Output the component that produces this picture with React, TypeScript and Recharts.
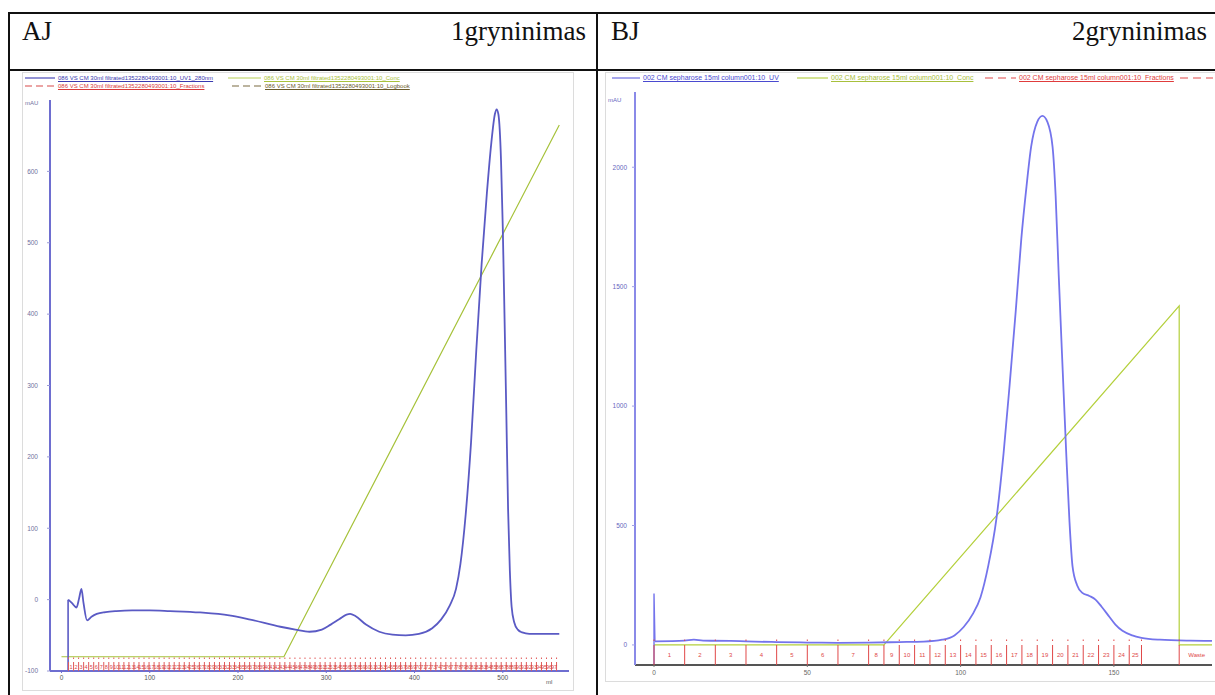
import React from 'react';
import { ComposedChart, Line, Scatter, XAxis, YAxis } from 'recharts';

// ---- panel A (left) ----
const leftXTicks = [0, 100, 200, 300, 400, 500];
const leftYTicks = [-100, 0, 100, 200, 300, 400, 500, 600];

const leftUvStart = [
    { x: 7.5, y: -100 }, { x: 7.5, y: 0 },
];
const leftUv = [
    { x: 7.6, y: 0 }, { x: 12, y: -5 }, { x: 17, y: -11 }, { x: 20, y: 2 }, { x: 22.6, y: 15 },
    { x: 25, y: -5 }, { x: 29, y: -29 }, { x: 34, y: -24 }, { x: 40, y: -20 }, { x: 50, y: -17.5 },
    { x: 62, y: -16 }, { x: 80, y: -15 }, { x: 100, y: -15 }, { x: 123, y: -16 }, { x: 157, y: -18 },
    { x: 190, y: -22 }, { x: 214, y: -28 }, { x: 248, y: -38 }, { x: 265, y: -42 }, { x: 281, y: -45 },
    { x: 295, y: -42 }, { x: 305, y: -35 }, { x: 315, y: -27 }, { x: 323, y: -21 }, { x: 327, y: -20 },
    { x: 333, y: -23 }, { x: 345, y: -35 }, { x: 360, y: -45 }, { x: 375, y: -49 }, { x: 390, y: -50 },
    { x: 405, y: -48 }, { x: 420, y: -40 }, { x: 430, y: -28 }, { x: 440, y: -8 }, { x: 447, y: 15 },
    { x: 452, y: 50 }, { x: 458, y: 120 }, { x: 464, y: 220 }, { x: 470, y: 350 }, { x: 476, y: 470 },
    { x: 482, y: 570 }, { x: 487, y: 640 }, { x: 491, y: 680 }, { x: 493, y: 687 }, { x: 495, y: 680 },
    { x: 498, y: 615 }, { x: 500, y: 520 }, { x: 502, y: 393 }, { x: 504, y: 260 }, { x: 506, y: 126 },
    { x: 508, y: 40 }, { x: 510, y: -10 }, { x: 513, y: -32 }, { x: 517, y: -42 }, { x: 522, y: -46 },
    { x: 530, y: -48 }, { x: 545, y: -48 }, { x: 564, y: -48 },
];
const leftConc = [
    { x: 0, y: -80 }, { x: 252, y: -80 }, { x: 564, y: 665 },
];
const leftFractionEdges = [
    8, 13.7, 19.4, 25.1, 30.8, 36.5, 42.2, 47.9, 53.6, 59.3, 65, 70.7, 76.4, 82.1, 87.8, 93.5,
    99.2, 104.9, 110.6, 116.3, 122, 127.7, 133.4, 139.1, 144.8, 150.5, 156.2, 161.9, 167.6, 173.3,
    179, 184.7, 190.4, 196.1, 201.8, 207.5, 213.2, 218.9, 224.6, 230.3, 236, 241.7, 247.4, 253.1,
    258.8, 264.5, 270.2, 275.9, 281.6, 287.3, 293, 298.7, 304.4, 310.1, 315.8, 321.5, 327.2, 332.9,
    338.6, 344.3, 350, 355.7, 361.4, 367.1, 372.8, 378.5, 384.2, 389.9, 395.6, 401.3, 407, 412.7,
    418.4, 424.1, 429.8, 435.5, 441.2, 446.9, 452.6, 458.3, 464, 469.7, 475.4, 481.1, 486.8, 492.5,
    498.2, 503.9, 509.6, 515.3, 521, 526.7, 532.4, 538.1, 543.8, 549.5, 555.2, 560.9,
];
const leftFractionNames = [
    '1', '2', '3', '4', '5', '6', '7', '8', '9', '10', '11', '12', '13', '14', '15', '16', '17', '18', '19', '20',
    '21', '22', '23', '24', '25', '26', '27', '28', '29', '30', '31', '32', '33', '34', '35', '36', '37', '38', '39', '40',
    '41', '42', '43', '44', '45', '46', '47', '48', '49', '50', '51', '52', '53', '54', '55', '56', '57', '58', '59', '60',
    '61', '62', '63', '64', '65', '66', '67', '68', '69', '70', '71', '72', '73', '74', '75', '76', '77', '78', '79', '80',
    '81', '82', '83', '84', '85', '86', '87', '88', '89', '90', '91', '92', '93', '94', '95', '96', '97',
];

// ---- panel B (right) ----
const rightXTicks = [0, 50, 100, 150];
const rightYTicks = [0, 500, 1000, 1500, 2000];

const rightUvStart = [
    { x: 0, y: -84 }, { x: 0, y: 215 }, { x: 0.3, y: 15 },
];
const rightUv = [
    { x: 0.3, y: 15 }, { x: 10, y: 18 }, { x: 13, y: 22 }, { x: 16, y: 18 }, { x: 25, y: 17 },
    { x: 30, y: 15 }, { x: 40, y: 12 }, { x: 50, y: 10 }, { x: 60, y: 9 }, { x: 70, y: 10 },
    { x: 80, y: 12 }, { x: 88, y: 14 }, { x: 94, y: 22 }, { x: 98, y: 40 }, { x: 101, y: 75 },
    { x: 104, y: 130 }, { x: 106.5, y: 200 }, { x: 109, y: 330 }, { x: 111.7, y: 530 }, { x: 114, y: 800 },
    { x: 116, y: 1090 }, { x: 118, y: 1400 }, { x: 119.8, y: 1700 }, { x: 121.5, y: 1920 }, { x: 123, y: 2085 },
    { x: 125, y: 2190 }, { x: 126.7, y: 2215 }, { x: 128.3, y: 2190 }, { x: 130, y: 2085 }, { x: 131, y: 1880 },
    { x: 132, y: 1550 }, { x: 133.3, y: 1150 }, { x: 134.5, y: 790 }, { x: 135.5, y: 520 }, { x: 136.5, y: 330 },
    { x: 138, y: 250 }, { x: 139.7, y: 218 }, { x: 142, y: 205 }, { x: 144, y: 190 }, { x: 146, y: 160 },
    { x: 148.5, y: 118 }, { x: 150.5, y: 85 }, { x: 152.8, y: 59 }, { x: 156, y: 40 }, { x: 159, y: 30 },
    { x: 165, y: 22 }, { x: 175, y: 18 }, { x: 182, y: 17 },
];
const rightConc = [
    { x: 0, y: 0 }, { x: 75, y: 0 }, { x: 171.3, y: 1420 }, { x: 171.3, y: 0 }, { x: 182, y: 0 },
];
const rightFractionEdges = [
    0, 10, 20, 30, 40, 50, 60, 70, 75, 80, 85, 90, 95, 100, 105, 110, 115, 120, 125, 130,
    135, 140, 145, 150, 155, 159,
];
const rightFractionNames = [
    '1', '2', '3', '4', '5', '6', '7', '8', '9', '10', '11', '12', '13', '14', '15', '16', '17', '18', '19', '20',
    '21', '22', '23', '24', '25',
];
const rightWasteEdge = 171.3;
const rightWasteLabelAt = 177;

const LEFT_Y_MIN = -100;
const RIGHT_Y_MIN = -84;

const SANS = "'Liberation Sans', Arial, sans-serif";
const SERIF = "'Liberation Serif', 'Times New Roman', serif";

const buildMarks = (edges: number[], yMin: number) => edges.map((x) => ({ x, y: yMin }));
const buildLabels = (edges: number[], names: string[], yMin: number) =>
    names.map((name, i) => ({ x: (edges[i] + edges[i + 1]) / 2, y: yMin, name }));

const markShape = (color: string, dash: string, h: number) => (props: any) => {
    const { cx, cy } = props;
    if (cx == null || cy == null) return <g />;
    return <line x1={cx} x2={cx} y1={cy} y2={cy - h} stroke={color} strokeWidth={1} strokeDasharray={dash} />;
};

const labelShape = (color: string, size: number, lift: number) => (props: any) => {
    const { cx, cy, payload } = props;
    if (cx == null || cy == null) return <g />;
    return (
        <text x={cx} y={cy - lift} fill={color} fontSize={size} textAnchor="middle" fontFamily={SANS}>
            {payload.name}
        </text>
    );
};

type LegendEntry = { x: number; y: number; w: number; color: string; dash?: string; text: string; textColor: string; size: number };

const leftLegend: LegendEntry[] = [
    { x: 25, y: 74, w: 30, color: '#4a4ab8', text: '086 VS CM 30ml filtrated1352280493001:10_UV1_280nm', textColor: '#3a3ab0', size: 6 },
    { x: 228, y: 74, w: 33, color: '#b8cf55', text: '086 VS CM 30ml filtrated1352280493001:10_Conc', textColor: '#a9c23c', size: 6 },
    { x: 25, y: 82, w: 30, color: '#d84a4a', dash: '7 4', text: '086 VS CM 30ml filtrated1352280493001:10_Fractions', textColor: '#d83a3a', size: 6 },
    { x: 232, y: 82, w: 30, color: '#7a6a40', dash: '7 4', text: '086 VS CM 30ml filtrated1352280493001:10_Logbook', textColor: '#6a5a2a', size: 6 },
];
const rightLegend: LegendEntry[] = [
    { x: 612, y: 74, w: 28, color: '#6a6ae0', text: '002 CM sepharose 15ml column001:10_UV', textColor: '#4a4ad0', size: 7 },
    { x: 797, y: 74, w: 31, color: '#b8d048', text: '002 CM sepharose 15ml column001:10_Conc', textColor: '#a8c03c', size: 7 },
    { x: 985, y: 74, w: 31, color: '#e04848', dash: '8 5', text: '002 CM sepharose 15ml column001:10_Fractions', textColor: '#e03c3c', size: 7 },
    { x: 1180, y: 74, w: 33, color: '#e04848', dash: '8 5', text: '', textColor: '#e03c3c', size: 7 },
];

const LegendRow = ({ e }: { e: LegendEntry }) => (
    <div style={{ position: 'absolute', left: e.x, top: e.y, height: 8, display: 'flex', alignItems: 'center', whiteSpace: 'nowrap' }}>
        <svg width={e.w} height={8} style={{ display: 'block' }}>
            <line x1={0} x2={e.w} y1={4} y2={4} stroke={e.color} strokeWidth={1.2} strokeDasharray={e.dash} />
        </svg>
        {e.text && (
            <span style={{ marginLeft: 3, fontSize: e.size, lineHeight: '8px', color: e.textColor, fontFamily: SANS, textDecoration: 'underline' }}>
                {e.text}
            </span>
        )}
    </div>
);

const hLine = (left: number, top: number, width: number, color = '#111', h = 2) => (
    <div style={{ position: 'absolute', left, top, width, height: h, background: color }} />
);
const vLine = (left: number, top: number, height: number, color = '#111', w = 2) => (
    <div style={{ position: 'absolute', left, top, width: w, height, background: color }} />
);

export default function App() {
    const leftMarks = buildMarks(leftFractionEdges, LEFT_Y_MIN);
    const leftLabels = buildLabels(leftFractionEdges, leftFractionNames, LEFT_Y_MIN);
    const rightMarks = buildMarks([...rightFractionEdges, rightWasteEdge], RIGHT_Y_MIN);
    const rightLabels = [
        ...buildLabels(rightFractionEdges, rightFractionNames, RIGHT_Y_MIN),
        { x: rightWasteLabelAt, y: RIGHT_Y_MIN, name: 'Waste' },
    ];

    return (
        <div style={{ position: 'fixed', left: 0, top: 0, width: 1215, height: 695, background: '#fff', overflow: 'hidden' }}>
            {/* light frames round each plot */}
            <div style={{ position: 'absolute', left: 22, top: 72, width: 550, height: 617, border: '1px solid #dcdcdc' }} />
            <div style={{ position: 'absolute', left: 605, top: 72, width: 612, height: 608, border: '1px solid #dcdcdc' }} />

            {/* Panel A */}
            <div style={{ position: 'absolute', left: 0, top: 0 }}>
                <ComposedChart width={600} height={695} margin={{ top: 100, right: 31, bottom: 10, left: 0 }} style={{ fontFamily: SANS }}>
                    <XAxis
                        type="number"
                        dataKey="x"
                        domain={[-13, 575]}
                        allowDataOverflow
                        ticks={leftXTicks}
                        height={14}
                        tickSize={2}
                        tickMargin={2}
                        tick={{ fontSize: 6.5, fill: '#555' }}
                        axisLine={{ stroke: '#6e6ed0', strokeWidth: 2 }}
                        tickLine={{ stroke: '#6e6ed0' }}
                    />
                    <YAxis
                        type="number"
                        dataKey="y"
                        domain={[LEFT_Y_MIN, 700]}
                        allowDataOverflow
                        ticks={leftYTicks}
                        width={50}
                        tickSize={3}
                        tickMargin={9}
                        tick={{ fontSize: 6.5, fill: '#7070a0' }}
                        axisLine={{ stroke: '#6e6ed0', strokeWidth: 2 }}
                        tickLine={{ stroke: '#9a9ad8' }}
                    />
                    <Line data={leftConc} dataKey="y" type="linear" stroke="#a6c23a" strokeWidth={1.2} dot={false} isAnimationActive={false} />
                    <Scatter data={leftMarks} dataKey="y" shape={markShape('#e05a5a', '9 3 1.5 100', 15)} isAnimationActive={false} />
                    <Scatter data={leftLabels} dataKey="y" shape={labelShape('#d84848', 5.5, 2)} isAnimationActive={false} />
                    <Line data={leftUvStart} dataKey="y" type="linear" stroke="#5a5ac4" strokeWidth={1.6} dot={false} isAnimationActive={false} />
                    <Line data={leftUv} dataKey="y" type="monotone" stroke="#5a5ac4" strokeWidth={1.8} dot={false} isAnimationActive={false} />
                </ComposedChart>
            </div>

            {/* Panel B */}
            <div style={{ position: 'absolute', left: 600, top: 0 }}>
                <ComposedChart width={615} height={695} margin={{ top: 92, right: 3, bottom: 16, left: 0 }} style={{ fontFamily: SANS }}>
                    <XAxis
                        type="number"
                        dataKey="x"
                        domain={[-6.2, 182]}
                        allowDataOverflow
                        ticks={rightXTicks}
                        height={14}
                        tickSize={2}
                        tickMargin={3}
                        tick={{ fontSize: 6.5, fill: '#666' }}
                        axisLine={{ stroke: '#555', strokeWidth: 2 }}
                        tickLine={{ stroke: '#777' }}
                    />
                    <YAxis
                        type="number"
                        dataKey="y"
                        domain={[RIGHT_Y_MIN, 2315]}
                        allowDataOverflow
                        ticks={rightYTicks}
                        width={35}
                        tickSize={3}
                        tickMargin={5}
                        tick={{ fontSize: 6.5, fill: '#6666c0' }}
                        axisLine={{ stroke: '#8a8ae8', strokeWidth: 2 }}
                        tickLine={{ stroke: '#a0a0e8' }}
                    />
                    <Line data={rightConc} dataKey="y" type="linear" stroke="#b4d03c" strokeWidth={1.2} dot={false} isAnimationActive={false} />
                    <Scatter data={rightMarks} dataKey="y" shape={markShape('#e04848', '20 4 1.5 100', 26)} isAnimationActive={false} />
                    <Scatter data={rightLabels} dataKey="y" shape={labelShape('#e04848', 6, 8)} isAnimationActive={false} />
                    <Line data={rightUvStart} dataKey="y" type="linear" stroke="#7474ec" strokeWidth={1.4} dot={false} isAnimationActive={false} />
                    <Line data={rightUv} dataKey="y" type="monotone" stroke="#7474ec" strokeWidth={1.8} dot={false} isAnimationActive={false} />
                </ComposedChart>
            </div>

            {/* legends and axis captions */}
            {leftLegend.map((e, i) => <LegendRow key={'l' + i} e={e} />)}
            {rightLegend.map((e, i) => <LegendRow key={'r' + i} e={e} />)}
            <div style={{ position: 'absolute', left: 25, top: 100, fontSize: 6, color: '#7070a0', fontFamily: SANS }}>mAU</div>
            <div style={{ position: 'absolute', left: 608, top: 97, fontSize: 6, color: '#6666c0', fontFamily: SANS }}>mAU</div>
            <div style={{ position: 'absolute', left: 546, top: 679, fontSize: 6, color: '#555', fontFamily: SANS }}>ml</div>

            {/* table grid and header */}
            {hLine(8, 12, 1207)}
            {hLine(8, 69, 1207)}
            {vLine(8, 12, 683)}
            {vLine(596, 12, 683)}
            <div style={{ position: 'absolute', left: 22, top: 16, fontSize: 27, fontFamily: SERIF, color: '#111' }}>AJ</div>
            <div style={{ position: 'absolute', right: 1215 - 586, top: 16, fontSize: 27, fontFamily: SERIF, color: '#111' }}>1gryninimas</div>
            <div style={{ position: 'absolute', left: 611, top: 16, fontSize: 27, fontFamily: SERIF, color: '#111' }}>BJ</div>
            <div style={{ position: 'absolute', right: 8, top: 16, fontSize: 27, fontFamily: SERIF, color: '#111' }}>2gryninimas</div>
        </div>
    );
}
